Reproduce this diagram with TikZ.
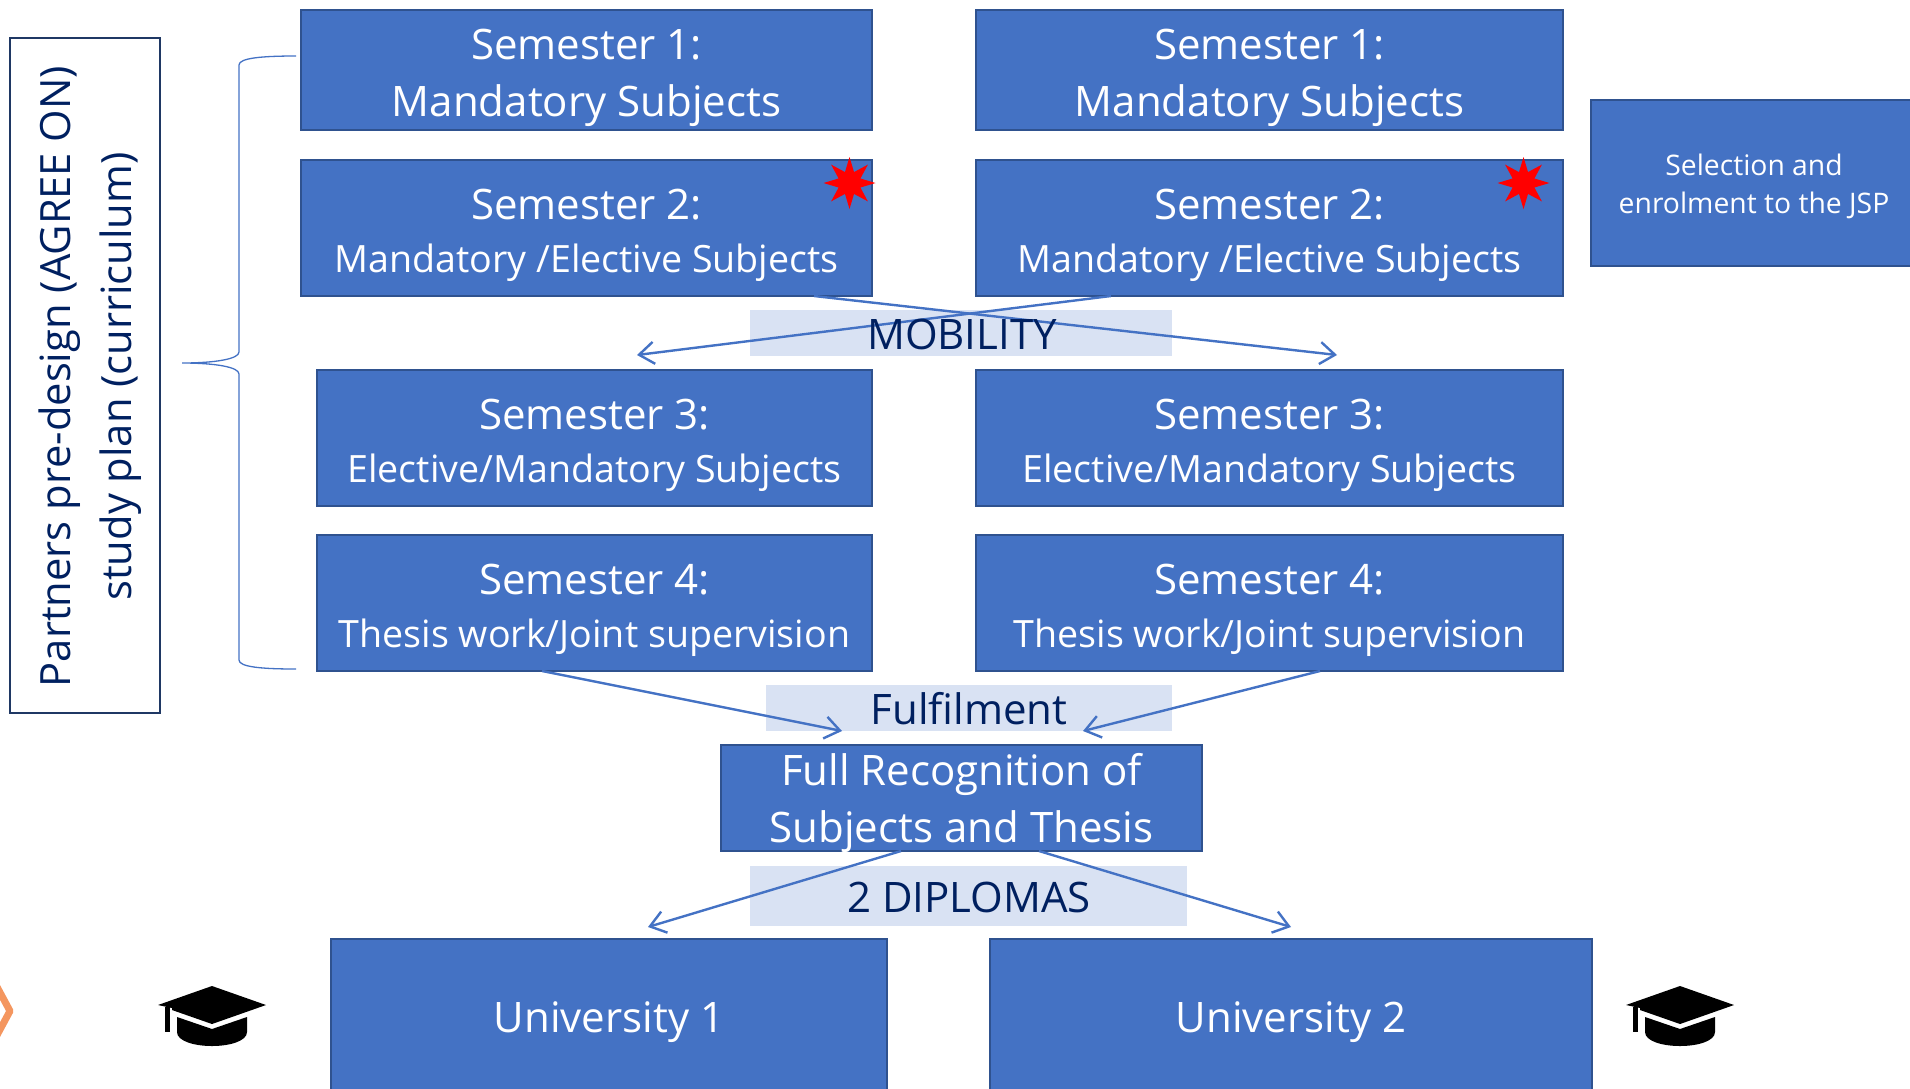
\documentclass[tikz,border=0pt]{standalone}
\usepackage{fontspec}
\setmainfont{Open Sans}
\usetikzlibrary{arrows.meta,shapes.geometric,calc}
\definecolor{boxblue}{HTML}{4472C4}
\definecolor{boxedge}{HTML}{2F528F}
\definecolor{navy}{HTML}{002060}
\definecolor{band}{HTML}{D9E2F3}
\definecolor{leftedge}{HTML}{1F3864}
\definecolor{chev}{HTML}{F4965F}
\newcommand{\semtext}[2]{\rule{0pt}{44.6pt}#1\\{\fontsize{37.6}{52.6}\selectfont #2}}
\newcommand{\firsttext}[2]{\rule{0pt}{47pt}#1\\#2}
\tikzset{
  x=1pt,y=-1pt,
  bluebox/.style={draw=boxedge,fill=boxblue,line width=2.6pt,text=white,inner sep=0pt,outer sep=0pt,align=center},
  semfont/.style={font=\fontsize{42}{52.6}\selectfont},
  firstfont/.style={font=\fontsize{42}{57}\selectfont},
  bandbox/.style={fill=band,text=navy,inner sep=0pt,outer sep=0pt,font=\fontsize{42}{50}\selectfont},
  linkarrow/.style={draw=boxblue,line width=2.4pt,-{Straight Barb[length=15pt,width=22pt,line width=2.4pt]}},
  bracket/.style={draw=boxblue,line width=1.3pt},
  redstar/.style={star,star points=8,star point ratio=2.2,fill=red,draw=none,minimum size=52pt,inner sep=0pt,outer sep=0pt},
  gradcap/.pic={
    \fill[black] (212,986)--(266,1005)--(212,1024)--(172,1010)--(172,1008)--(158,1005)--cycle;
    \fill[black] (165,1007) rectangle (170,1032);
    \fill[black] (177,1017)--(212,1029)--(247,1017)--(247,1032) .. controls (247,1041) and (230,1046) .. (212,1046) .. controls (194,1046) and (177,1041) .. (177,1032)--cycle;
  }
}
\begin{document}
\begin{tikzpicture}
\useasboundingbox (0,0) rectangle (1910,1088);
% bands
\node[bandbox,minimum width=422pt,minimum height=46pt] (mob) at (961,333) {};
\node[bandbox,minimum width=406pt,minimum height=46pt] (ful) at (969,708) {};
\node[bandbox,minimum width=437pt,minimum height=60pt] (dip) at (968.5,896) {};
% left column
\node[bluebox,firstfont,minimum width=571pt,minimum height=120pt] (a1) at (586.5,70) {\firsttext{Semester 1:}{Mandatory Subjects}};
\node[bluebox,semfont,minimum width=571pt,minimum height=136pt] (a2) at (586.5,228) {\semtext{Semester 2:}{Mandatory /Elective Subjects}};
\node[bluebox,semfont,minimum width=555pt,minimum height=136pt] (a3) at (594.5,438) {\semtext{Semester 3:}{Elective/Mandatory Subjects}};
\node[bluebox,semfont,minimum width=555pt,minimum height=136pt] (a4) at (594.5,603) {\semtext{Semester 4:}{Thesis work/Joint supervision}};
% right column
\node[bluebox,firstfont,minimum width=587pt,minimum height=120pt] (b1) at (1269.5,70) {\firsttext{Semester 1:}{Mandatory Subjects}};
\node[bluebox,semfont,minimum width=587pt,minimum height=136pt] (b2) at (1269.5,228) {\semtext{Semester 2:}{Mandatory /Elective Subjects}};
\node[bluebox,semfont,minimum width=587pt,minimum height=136pt] (b3) at (1269.5,438) {\semtext{Semester 3:}{Elective/Mandatory Subjects}};
\node[bluebox,semfont,minimum width=587pt,minimum height=136pt] (b4) at (1269.5,603) {\semtext{Semester 4:}{Thesis work/Joint supervision}};
% selection
\node[bluebox,minimum width=326pt,minimum height=166pt,font=\fontsize{28.3}{38}\selectfont] (sel) at (1754,183) {\rule{0pt}{29pt}Selection and\\enrolment to the JSP};
% recognition
\node[bluebox,minimum width=481pt,minimum height=106pt] (rec) at (961.5,798) {};
\node[text=white,align=center,inner sep=0pt,font=\fontsize{42}{57}\selectfont] (rectext) at (961.5,803) {Full Recognition of\\Subjects and Thesis};
% universities
\node[bluebox,minimum width=556pt,minimum height=156pt,font=\fontsize{42}{50}\selectfont] (u1) at (609,1017) {\rule{0pt}{41pt}University 1};
\node[bluebox,minimum width=602pt,minimum height=156pt,font=\fontsize{42}{50}\selectfont] (u2) at (1291,1017) {\rule{0pt}{41pt}University 2};
% left box
\node[draw=leftedge,line width=2.6pt,minimum width=150pt,minimum height=675pt,inner sep=0pt,outer sep=0pt] (plan) at (85,375.5) {};
\node[rotate=90,align=center,text=navy,font=\fontsize{41.7}{61}\selectfont,inner sep=0pt] (plantext) at (90.5,376.5) {Partners pre-design (AGREE ON)\\study plan (curriculum)};
% stars
\node[redstar] (star1) at (849.5,183) {};
\node[redstar] (star2) at (1523.5,183) {};
% connectors
\coordinate (mobL) at (637,355);
\coordinate (mobR) at (1337,355);
\coordinate (fulL) at (842,731);
\coordinate (fulR) at (1083,731);
\coordinate (dipL) at (648,927);
\coordinate (dipR) at (1291,927);
\draw[linkarrow] ($(a2.south)+(227.5,0)$) -- (mobR);
\draw[linkarrow] ($(b2.south)+(-158.5,0)$) -- (mobL);
\draw[linkarrow] ($(a4.south)+(-52.5,0)$) -- (fulL);
\draw[linkarrow] ($(b4.south)+(50.5,0)$) -- (fulR);
\draw[linkarrow] ($(rec.south)+(-60.5,0)$) -- (dipL);
\draw[linkarrow] ($(rec.south)+(77.5,0)$) -- (dipR);
\node[text=navy,inner sep=0pt,font=\fontsize{42}{50}\selectfont] (mobt) at (962,334) {MOBILITY};
\node[text=navy,inner sep=0pt,font=\fontsize{42}{50}\selectfont] (fult) at (969,709) {Fulfilment};
\node[text=navy,inner sep=0pt,font=\fontsize{42}{50}\selectfont] (dipt) at (969,897) {2 DIPLOMAS};
% brace
\coordinate (brT) at (296,56);
\coordinate (brB) at (296,669);
\coordinate (brM) at (182,363);
\draw[bracket] (brT) .. controls (262,56) and (239,58) .. (239,65) -- (239,352) .. controls (239,359) and (215,363) .. (brM) .. controls (215,363) and (239,367) .. (239,374) -- (239,660) .. controls (239,667) and (262,669) .. (brB);
% chevron
\draw[chev,line width=7pt,line join=round] (-4,985) -- (10,1011) -- (-4,1037);
% caps
\pic {gradcap};
\pic[xshift=1468pt] {gradcap};
\end{tikzpicture}
\end{document}
